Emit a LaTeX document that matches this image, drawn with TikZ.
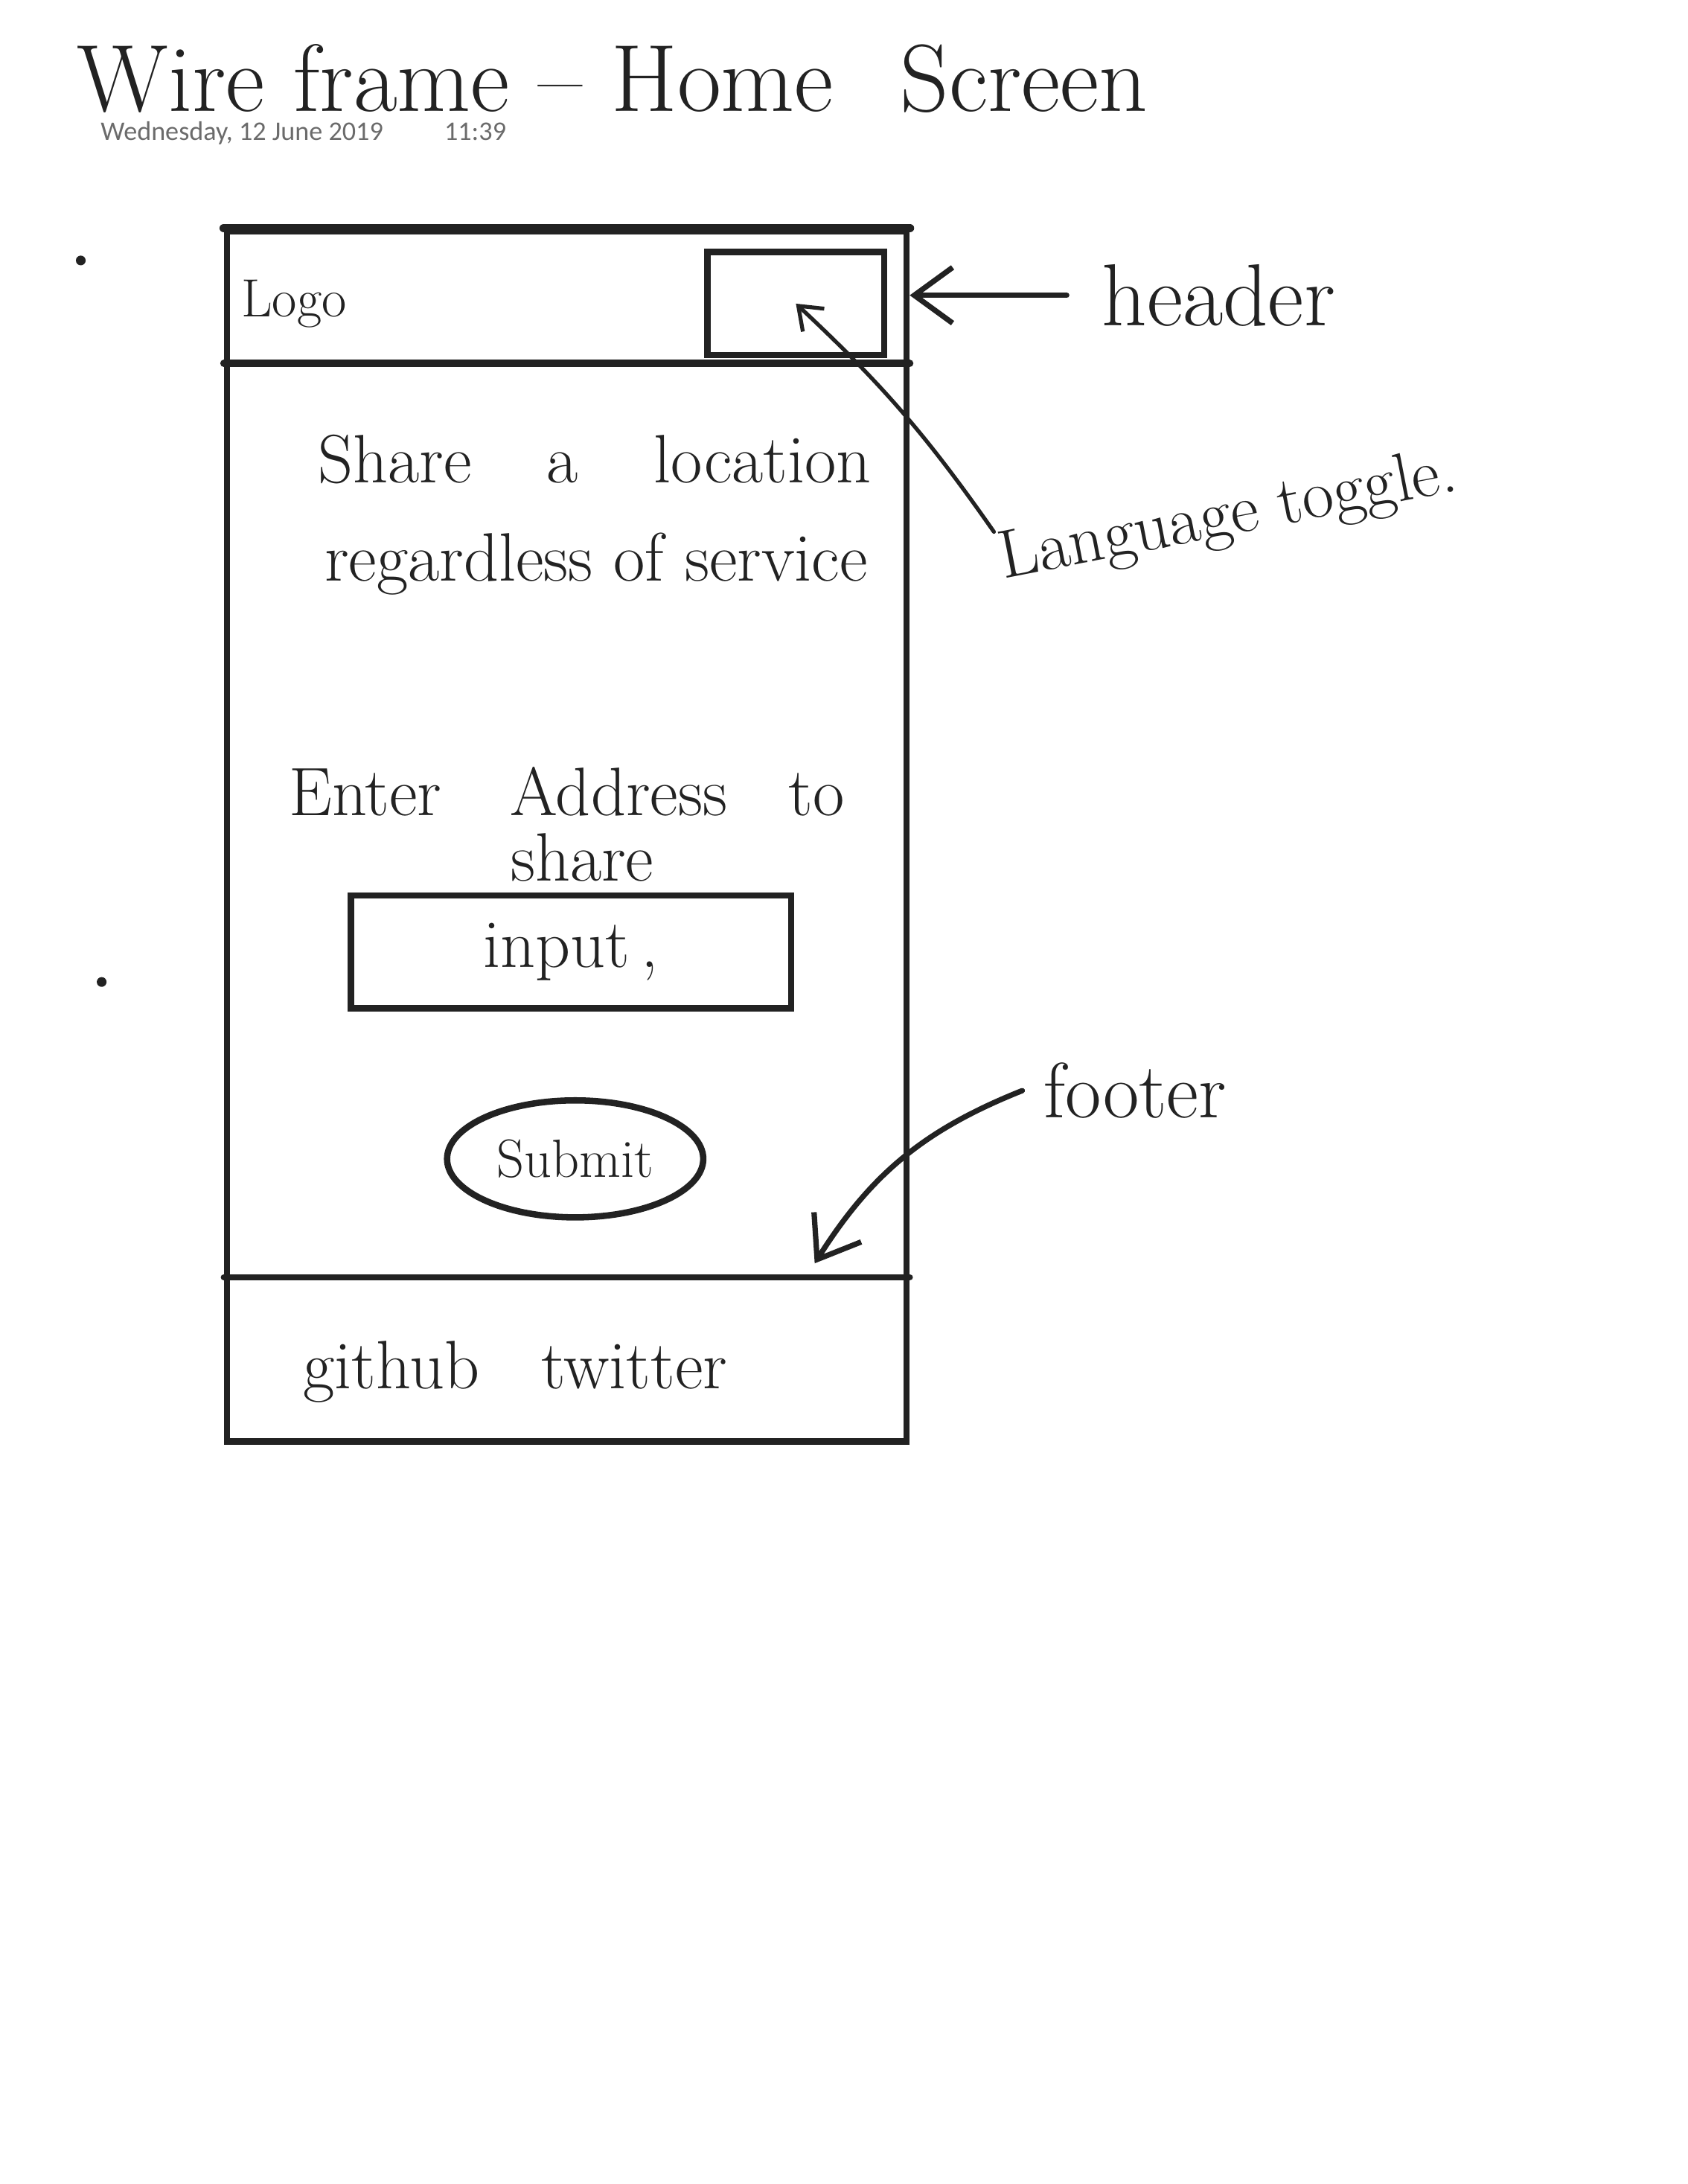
\documentclass[tikz,border=0pt]{standalone}
\usepackage{fontspec}
\usepackage{tikz}
\usetikzlibrary{shapes.geometric,arrows.meta,positioning}
\newfontfamily\stampfont{Carlito}
\definecolor{ink}{HTML}{222222}
\definecolor{stamp}{HTML}{6B6B6B}
\tikzset{
    sketch-line/.style = {draw=ink, line width=2.6pt, line cap=round},
    wire-box/.style = {draw=ink, line width=2.6pt, rectangle, inner sep=0pt},
    hand-text/.style = {text=ink, inner sep=0pt, font=\fontsize{28}{32}\selectfont},
    pointer/.style = {draw=ink, line width=2.2pt, line cap=round, -{Straight Barb[length=0.55cm, width=0.8cm, line width=2.2pt]}},
    small-pointer/.style = {draw=ink, line width=1.6pt, line cap=round, -{Straight Barb[length=0.3cm, width=0.45cm, line width=1.6pt]}},
}

\begin{document}
\begin{tikzpicture}[x=0.02cm, y=-0.02cm]
\useasboundingbox (0,0) rectangle (1212,1568);

% title and time stamp
\node[hand-text, font=\fontsize{39}{44}\selectfont, anchor=base west] (title) at (55,80) {Wire frame -- Home\hspace{0.4em} Screen};
\node[text=stamp, inner sep=0pt, font=\stampfont\fontsize{11}{13}\selectfont, anchor=base west] (when) at (72,101) {Wednesday, 12 June 2019\hspace{25pt}11:39};

% phone outline
\node[wire-box, minimum width=9.76cm, minimum height=17.38cm] (phone) at (407,600.5) {};
\draw[sketch-line, line width=3.6pt] (phone.north west) -- (phone.north east);
\coordinate (hdr) at (0,261);
\draw[sketch-line, line width=3pt] (phone.west |- hdr) -- (phone.east |- hdr);
\node[wire-box, minimum width=2.54cm, minimum height=1.48cm] (toggle) at (571.5,218) {};
\node[hand-text, font=\fontsize{22}{26}\selectfont] (logo) at (211,218) {Logo};

% body
\node[hand-text] (share) at (427,330) {Share\hspace{1.1em}a\hspace{1.1em}location};
\node[hand-text] (regard) at (428,405) {regardless of service};
\node[hand-text] (enter) at (407,568) {Enter\hspace{1em}Address\hspace{0.9em}to};
\node[hand-text, below=7pt of enter, xshift=0.22cm] (share2) {share};
\node[wire-box, hand-text, draw=ink, minimum width=6.32cm, minimum height=1.62cm] (input) at (410,683.5) {input\,,};
\node[wire-box, hand-text, draw=ink, ellipse, minimum width=3.68cm, minimum height=1.68cm, font=\fontsize{22}{26}\selectfont] (submit) at (413,832) {Submit};

% footer
\coordinate (ftr) at (0,917);
\draw[sketch-line] (phone.west |- ftr) -- (phone.east |- ftr);
\node[hand-text] (links) at (370,985) {github\hspace{0.9em}twitter};

% notes
\node[hand-text, font=\fontsize{36}{40}\selectfont, inner xsep=0.5cm] (header) at (875,212) {header};
\draw[pointer] (header.west) -- (phone.east |- header.west);

\node[hand-text, rotate=11] (lang) at (882,372) {Language toggle.};
\draw[small-pointer] (lang.north west) to[bend right=6] (toggle.center);

\node[hand-text, font=\fontsize{32}{38}\selectfont, inner xsep=0.3cm] (footer) at (815,783) {footer};
\coordinate (ftip) at (585,907);
\draw[pointer] (footer.west) to[bend right=18] (ftip);

\fill[ink] (58,187) circle (0.07cm);
\fill[ink] (73,705) circle (0.07cm);
\end{tikzpicture}
\end{document}
